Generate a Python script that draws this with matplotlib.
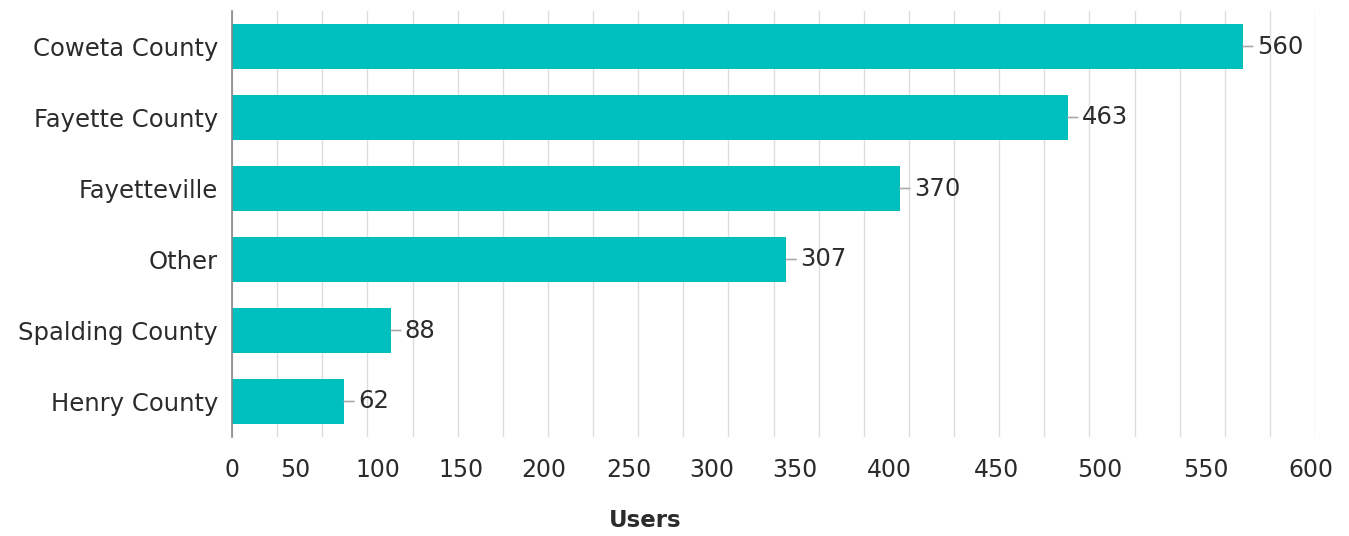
import matplotlib
matplotlib.use("Agg")
import matplotlib.pyplot as plt

# data
categories = ["Coweta County", "Fayette County", "Fayetteville", "Other",
              "Spalding County", "Henry County"]
users = [560, 463, 370, 307, 88, 62]
tick_labels = ["0", "50", "100", "150", "200", "250", "300", "350", "400",
               "450", "500", "550", "600"]
# where the reference puts its x tick labels (in data units, layout only)
tick_label_pos = [0, 34.9, 80.9, 126.9, 172.9, 219.9, 265.9, 311.9,
                  364.0, 423.3, 480.9, 539.6, 597.8]

bar_color = "#00C0BF"
text_color = "#2b2b2b"

plt.rcParams['font.family'] = ['DejaVu Sans']

fig = plt.figure(figsize=(13.49, 5.36), dpi=100)
ax = fig.add_axes([232 / 1349, 1 - 437 / 536, 1083 / 1349, 426 / 536])

y = list(range(len(categories)))
ax.barh(y, users, height=0.62, color=bar_color, linewidth=0, zorder=3)

ax.set_yticks(y)
ax.set_yticklabels(categories, fontsize=17.5, color=text_color)
ax.tick_params(axis="y", length=0, pad=10)

ax.set_xticks(tick_label_pos)
ax.set_xticklabels(tick_labels, fontsize=17, color=text_color)
ax.tick_params(axis="x", which="major", length=0, pad=15)
ax.set_xlim(0, 600)
ax.set_ylim(len(categories) - 0.5, -0.5)

# gridlines every 25
for gx in range(0, 601, 25):
    ax.axvline(gx, color="#dddddd", linewidth=1, zorder=1)

for s in ["top", "right", "bottom"]:
    ax.spines[s].set_visible(False)
ax.spines["left"].set_color("#888888")
ax.spines["left"].set_linewidth(1.2)
ax.spines["left"].set_zorder(4)

# value labels with short leader lines
for yi, v in zip(y, users):
    ax.annotate("", xy=(v, yi), xytext=(10, 0), textcoords="offset pixels",
                arrowprops=dict(arrowstyle="-", color="#aaaaaa", lw=1.2,
                                shrinkA=0, shrinkB=0))
    ax.annotate(str(v), xy=(v, yi), xytext=(14, 0), textcoords="offset pixels",
                va="center", ha="left", fontsize=17.5, color=text_color)

ax.set_xlabel("Users", fontsize=16.5, fontweight="bold", color=text_color)
ax.xaxis.set_label_coords((645 - 232) / 1083, -0.17)

fig.savefig("out.png", dpi=100, facecolor="white")
